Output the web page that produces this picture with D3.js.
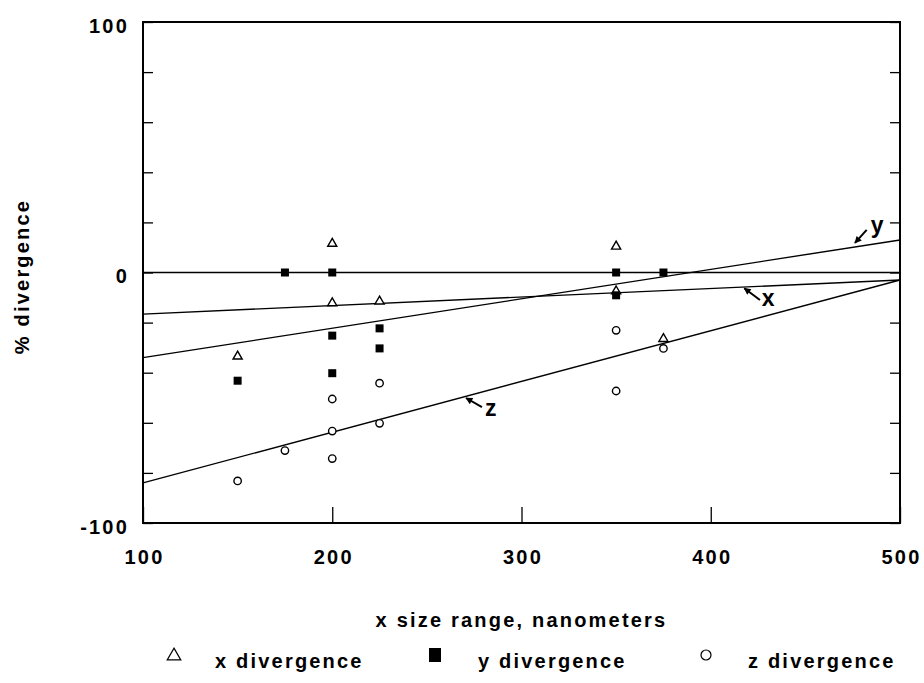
<!DOCTYPE html>
<html>
<head>
<meta charset="utf-8">
<script src="https://cdn.jsdelivr.net/npm/d3@7"></script>
<style>
  body { margin: 0; background: #fff; }
  text { font-family: "Liberation Sans", Arial, sans-serif; font-weight: bold; fill: #000; }
</style>
</head>
<body>
<div id="main"></div>
<script>
// data
var xDiv = [[150, -33.3], [200, 11.7], [200, -12], [225, -11.3], [350, 10.6], [350, -7.3], [375, -26.3]];
var yDiv = [[150, -43.2], [175, 0], [200, 0], [200, -25.2], [200, -40.2], [225, -22.3], [225, -30.3], [350, 0], [350, -9.1], [375, 0]];
var zDiv = [[150, -83.2], [175, -71.1], [200, -50.5], [200, -63.3], [200, -74.3], [225, -44.2], [225, -60.2], [350, -23.1], [350, -47.3], [375, -30.3]];

// fitted lines, [x0, y0, x1, y1]
var fitLines = [[100, 0, 500, 0], [100, -16.6, 500, -3], [100, -34, 500, 13], [100, -84, 500, -3]];

// line labels: label baseline, arrow tail, arrow tip (data units)
var lineLabels = [
  {name: "y", tx: 484.6, ty: 15.6, ax: 482.4, ay: 17, bx: 476.2, by: 11.8},
  {name: "x", tx: 427, ty: -13.4, ax: 426, ay: -11, bx: 417.7, by: -6.3},
  {name: "z", tx: 280.7, ty: -57.3, ax: 279.1, ay: -53.7, bx: 270.7, by: -50.1}
];

var xTicks = [100, 200, 300, 400, 500];
var yTicks = d3.range(-100, 101, 20);
var yLabels = [-100, 0, 100];

var margin = {top: 22, right: 24, bottom: 160, left: 143},
    width = 900 - margin.left,
    height = 523 - margin.top;

var svg = d3.select("#main")
  .append("svg")
    .attr("width", 924)
    .attr("height", 683)
  .append("g")
    .attr("transform", "translate(" + margin.left + "," + margin.top + ")");

var x = d3.scaleLinear().domain([100, 500]).range([0, width]);
var y = d3.scaleLinear().domain([-100, 100]).range([height, 0]);

var fs = "20px", ls = "2.2px";

// axes, ticks pointing inward
var gx = svg.append("g")
  .attr("transform", "translate(0," + height + ")")
  .call(d3.axisBottom(x).tickValues(xTicks).tickSize(-16).tickSizeOuter(0).tickPadding(33).tickFormat(d3.format("d")));

var gy = svg.append("g")
  .call(d3.axisLeft(y).tickValues(yTicks).tickSize(-10).tickSizeOuter(0).tickPadding(14)
    .tickFormat(function(d) { return yLabels.indexOf(d) >= 0 ? d : ""; }));

var gr = svg.append("g")
  .attr("transform", "translate(" + width + ",0)")
  .call(d3.axisRight(y).tickValues(yTicks).tickSize(-10).tickSizeOuter(0).tickFormat(""));

[gx, gy, gr].forEach(function(g) {
  g.select(".domain").remove();
  g.selectAll(".tick line").attr("stroke", "#000").attr("stroke-width", 1.3);
  g.selectAll(".tick text")
    .attr("font-family", null)
    .style("font-size", fs)
    .style("letter-spacing", ls);
});
gy.selectAll(".tick text").attr("dy", "0.52em");
gx.selectAll(".tick text").attr("dy", "0.4em").attr("dx", "1px");

// frame
svg.append("rect")
  .attr("x", 0).attr("y", 0)
  .attr("width", width).attr("height", height)
  .attr("fill", "none")
  .attr("stroke", "#000")
  .attr("stroke-width", 2);

// fitted lines
svg.selectAll(".fit")
  .data(fitLines)
  .enter().append("line")
    .attr("class", "fit")
    .attr("x1", function(d) { return x(d[0]); })
    .attr("y1", function(d) { return y(d[1]); })
    .attr("x2", function(d) { return x(d[2]); })
    .attr("y2", function(d) { return y(d[3]); })
    .attr("stroke", "#000")
    .attr("stroke-width", 1.4);

// arrow head
svg.append("defs").append("marker")
  .attr("id", "head")
  .attr("viewBox", "0 0 10 10")
  .attr("refX", 9).attr("refY", 5)
  .attr("markerWidth", 9).attr("markerHeight", 7)
  .attr("markerUnits", "userSpaceOnUse")
  .attr("orient", "auto")
  .append("path")
    .attr("d", "M0,0L10,5L0,10Z")
    .attr("fill", "#000");

var ann = svg.selectAll(".ann").data(lineLabels).enter().append("g").attr("class", "ann");
ann.append("line")
  .attr("x1", function(d) { return x(d.ax); })
  .attr("y1", function(d) { return y(d.ay); })
  .attr("x2", function(d) { return x(d.bx); })
  .attr("y2", function(d) { return y(d.by); })
  .attr("stroke", "#000")
  .attr("stroke-width", 2)
  .attr("marker-end", "url(#head)");
ann.append("text")
  .attr("x", function(d) { return x(d.tx); })
  .attr("y", function(d) { return y(d.ty); })
  .style("font-size", "23px")
  .text(function(d) { return d.name; });

// markers
var tri = d3.symbol().type(d3.symbolTriangle).size(36);

svg.selectAll(".xd")
  .data(xDiv)
  .enter().append("path")
    .attr("class", "xd")
    .attr("d", tri)
    .attr("transform", function(d) { return "translate(" + x(d[0]) + "," + (y(d[1]) + 0.5) + ")"; })
    .attr("fill", "#fff")
    .attr("stroke", "#000")
    .attr("stroke-width", 1.4);

svg.selectAll(".yd")
  .data(yDiv)
  .enter().append("rect")
    .attr("class", "yd")
    .attr("x", function(d) { return x(d[0]) - 4; })
    .attr("y", function(d) { return y(d[1]) - 4; })
    .attr("width", 8)
    .attr("height", 8)
    .attr("fill", "#000");

svg.selectAll(".zd")
  .data(zDiv)
  .enter().append("circle")
    .attr("class", "zd")
    .attr("cx", function(d) { return x(d[0]); })
    .attr("cy", function(d) { return y(d[1]); })
    .attr("r", 3.7)
    .attr("fill", "#fff")
    .attr("stroke", "#000")
    .attr("stroke-width", 1.4);

// axis titles
svg.append("text")
  .attr("x", width / 2)
  .attr("y", height + 104)
  .attr("text-anchor", "middle")
  .style("font-size", fs)
  .style("letter-spacing", ls)
  .text("x size range, nanometers");

svg.append("text")
  .attr("transform", "translate(" + (22 - margin.left) + "," + (height / 2 + 4) + ") rotate(-90)")
  .attr("text-anchor", "middle")
  .attr("dy", "0.35em")
  .style("font-size", fs)
  .style("letter-spacing", ls)
  .text("% divergence");

// legend
var legend = [
  {label: "x divergence", sx: 174, tx: 215, kind: "tri"},
  {label: "y divergence", sx: 435, tx: 478, kind: "sq"},
  {label: "z divergence", sx: 706, tx: 748, kind: "circ"}
];
var ly = 662;
var lg = d3.select("svg").append("g");
legend.forEach(function(d) {
  if (d.kind == "tri") {
    lg.append("path").attr("d", d3.symbol().type(d3.symbolTriangle).size(80))
      .attr("transform", "translate(" + d.sx + "," + (ly - 6) + ")")
      .attr("fill", "#fff").attr("stroke", "#000").attr("stroke-width", 1.2);
  } else if (d.kind == "sq") {
    lg.append("rect").attr("x", d.sx - 6).attr("y", ly - 14).attr("width", 12).attr("height", 14).attr("fill", "#000");
  } else {
    lg.append("circle").attr("cx", d.sx).attr("cy", ly - 7).attr("r", 5)
      .attr("fill", "#fff").attr("stroke", "#000").attr("stroke-width", 1.2);
  }
  lg.append("text")
    .attr("x", d.tx).attr("y", ly + 6)
    .style("font-size", fs)
    .style("letter-spacing", ls)
    .text(d.label);
});
</script>
</body>
</html>
